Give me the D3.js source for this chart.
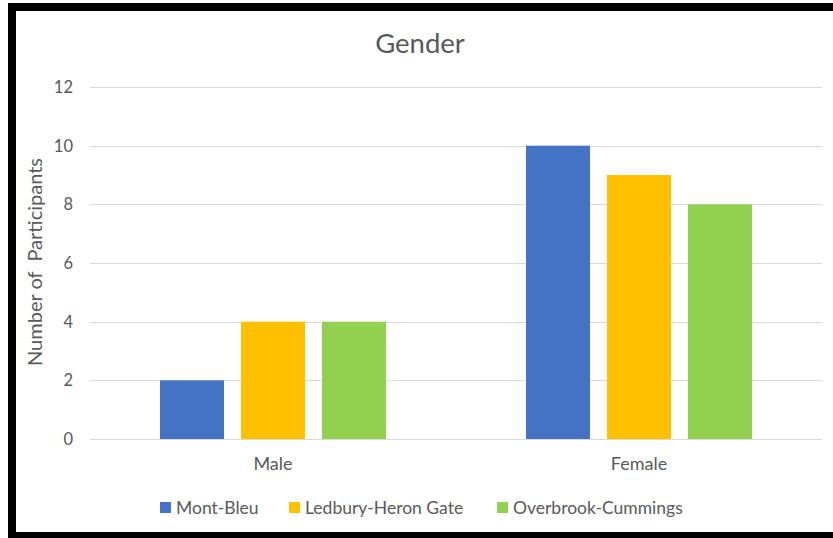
<!DOCTYPE html>
<html>
<head>
<meta charset="utf-8">
<script src="https://cdn.jsdelivr.net/npm/d3@7"></script>
<style>
  html, body { margin: 0; padding: 0; background: #fff; }
  svg { display: block; }
  text { font-family: Lato, "Open Sans", sans-serif; fill: #595959; white-space: pre; }
</style>
</head>
<body>
<script>
// Participants per gender for each neighbourhood
const categories = ["Male", "Female"];
const seriesNames = ["Mont-Bleu", "Ledbury-Heron Gate", "Overbrook-Cummings"];
const montBleu = [2, 10];
const ledburyHeronGate = [4, 9];
const overbrookCummings = [4, 8];
const seriesValues = [montBleu, ledburyHeronGate, overbrookCummings];
const seriesColors = ["#4472C4", "#FFC000", "#92D050"];
const yTicks = [0, 2, 4, 6, 8, 10, 12];

const W = 833, H = 538;
const svg = d3.select("body").append("svg").attr("width", W).attr("height", H);

// frame
svg.append("rect").attr("x", 0).attr("y", 0).attr("width", W).attr("height", H).attr("fill", "#fff");
svg.append("rect").attr("x", 8).attr("y", 3).attr("width", W - 8).attr("height", H - 3).attr("fill", "#000");
svg.append("rect").attr("x", 16).attr("y", 11).attr("width", W - 16).attr("height", 521).attr("fill", "#fff");

const plot = { left: 90, right: 822, top: 87, bottom: 439 };

const y = d3.scaleLinear().domain([0, 12]).range([plot.bottom, plot.top]);
const x0 = d3.scaleBand().domain(categories).range([plot.left, plot.right]).padding(0);
const groupW = 226;
const x1 = d3.scaleBand().domain(seriesNames).range([0, groupW]).paddingInner(0.21).paddingOuter(0);

// gridlines
svg.append("g").selectAll("line").data(yTicks).join("line")
  .attr("x1", plot.left).attr("x2", plot.right)
  .attr("y1", d => Math.round(y(d)) + 0.5).attr("y2", d => Math.round(y(d)) + 0.5)
  .attr("stroke", "#D9D9D9").attr("stroke-width", 1);

// y tick labels
svg.append("g").selectAll("text").data(yTicks).join("text")
  .attr("x", 73).attr("y", d => y(d)).attr("dy", "0.36em")
  .attr("text-anchor", "end").attr("font-size", 16.5)
  .text(d => d);

// bars
const groups = svg.append("g").selectAll("g").data(categories).join("g")
  .attr("transform", d => `translate(${x0(d) + (x0.bandwidth() - groupW) / 2},0)`);
groups.selectAll("rect")
  .data((c, ci) => seriesNames.map((s, si) => ({ s, si, v: seriesValues[si][ci] })))
  .join("rect")
  .attr("x", d => x1(d.s))
  .attr("width", x1.bandwidth())
  .attr("y", d => y(d.v))
  .attr("height", d => y(0) - y(d.v))
  .attr("fill", d => seriesColors[d.si]);

// category labels
svg.append("g").selectAll("text").data(categories).join("text")
  .attr("x", d => x0(d) + x0.bandwidth() / 2).attr("y", 470)
  .attr("text-anchor", "middle").attr("font-size", 18)
  .text(d => d);

// title
svg.append("text").attr("x", 420).attr("y", 53)
  .attr("text-anchor", "middle").attr("font-size", 27.5)
  .text("Gender");

// y axis title
svg.append("text")
  .attr("transform", "translate(42,262) rotate(-90)")
  .attr("text-anchor", "middle").attr("font-size", 20)
  .text("Number of  Participants");

// legend
const legendX = [160, 289, 497];
const lg = svg.append("g").selectAll("g").data(seriesNames).join("g")
  .attr("transform", (d, i) => `translate(${legendX[i]},502)`);
lg.append("rect").attr("width", 11).attr("height", 11).attr("fill", (d, i) => seriesColors[i]);
lg.append("text").attr("x", 16).attr("y", 12).attr("font-size", 17.5).text(d => d);
</script>
</body>
</html>
